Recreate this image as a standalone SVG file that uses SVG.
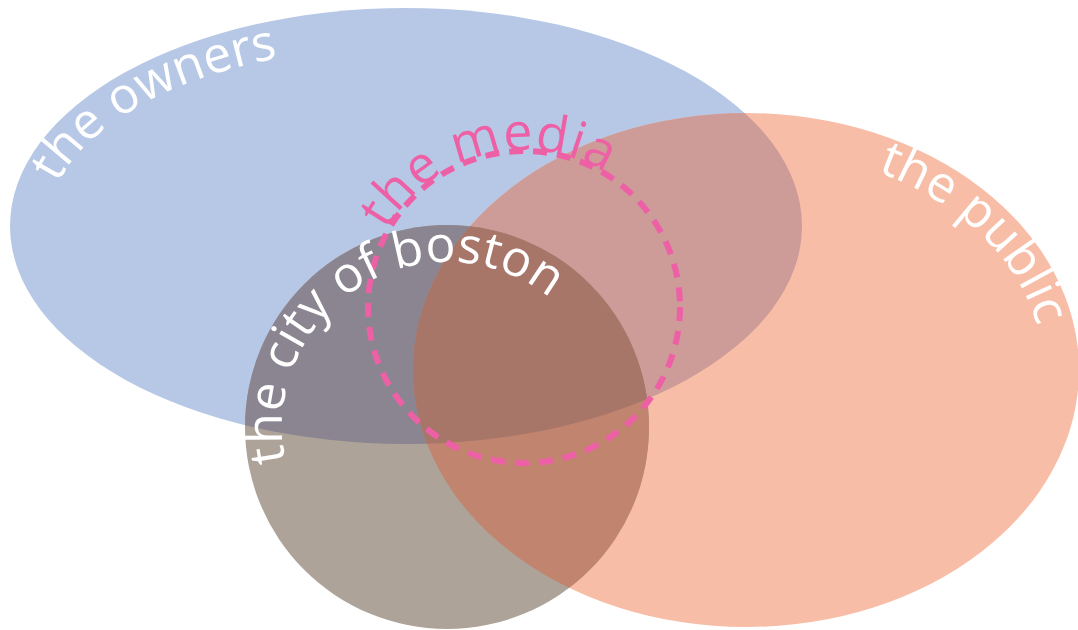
<svg xmlns="http://www.w3.org/2000/svg" width="1078" height="630" viewBox="0 0 1078 630">
<style>
.lbl{font-family:"Open Sans","Noto Sans",sans-serif;font-size:50px;fill:#ffffff}
.media{font-family:"Open Sans","Noto Sans",sans-serif;font-size:52px;fill:#ee60a6;letter-spacing:1px}
</style>
<defs>
<clipPath id="cB"><ellipse cx="406" cy="226" rx="396" ry="218"/></clipPath>
<clipPath id="cP"><ellipse cx="746" cy="370" rx="333" ry="257"/></clipPath>
<path id="tpOwners" d="M 48 226 A 358 180 0 0 1 764 226"/>
<path id="tpPublic" d="M 746 149 A 297 221 0 0 1 1043 370"/>
<path id="tpCity" d="M 285.6 461.3 A 165 165 0 0 1 573.4 320.9"/>
<path id="tpMedia" d="M 367 307 A 157 157 0 0 1 681 307"/>
</defs>
<rect width="1078" height="630" fill="#ffffff"/>
<g id="owners">
<ellipse cx="406" cy="226" rx="396" ry="218" fill="#b7c8e6"/>
</g>
<g id="public">
<ellipse cx="746" cy="370" rx="333" ry="257" fill="#f8bda6"/>
<g clip-path="url(#cB)"><ellipse cx="746" cy="370" rx="333" ry="257" fill="#cd9c99"/></g>
</g>
<g id="city">
<circle cx="447" cy="427" r="202" fill="#aea399"/>
<g clip-path="url(#cB)"><circle cx="447" cy="427" r="202" fill="#8a8590"/></g>
<g clip-path="url(#cP)"><circle cx="447" cy="427" r="202" fill="#c0846f"/></g>
<g clip-path="url(#cB)"><g clip-path="url(#cP)"><circle cx="447" cy="427" r="202" fill="#a87569"/></g></g>
</g>
<g id="media">
<circle cx="524" cy="307" r="156" fill="none" stroke="#ee60a6" stroke-width="6" stroke-dasharray="14 10"/>
<text class="media"><textPath href="#tpMedia" startOffset="80">the media</textPath></text>
</g>
<g id="labels">
<text class="lbl"><textPath href="#tpOwners" startOffset="44">the owners</textPath></text>
<text class="lbl"><textPath href="#tpPublic" startOffset="134">the public</textPath></text>
<text class="lbl"><textPath href="#tpCity" startOffset="0">the city of boston</textPath></text>
</g>
<g id="connectors"></g>
</svg>
